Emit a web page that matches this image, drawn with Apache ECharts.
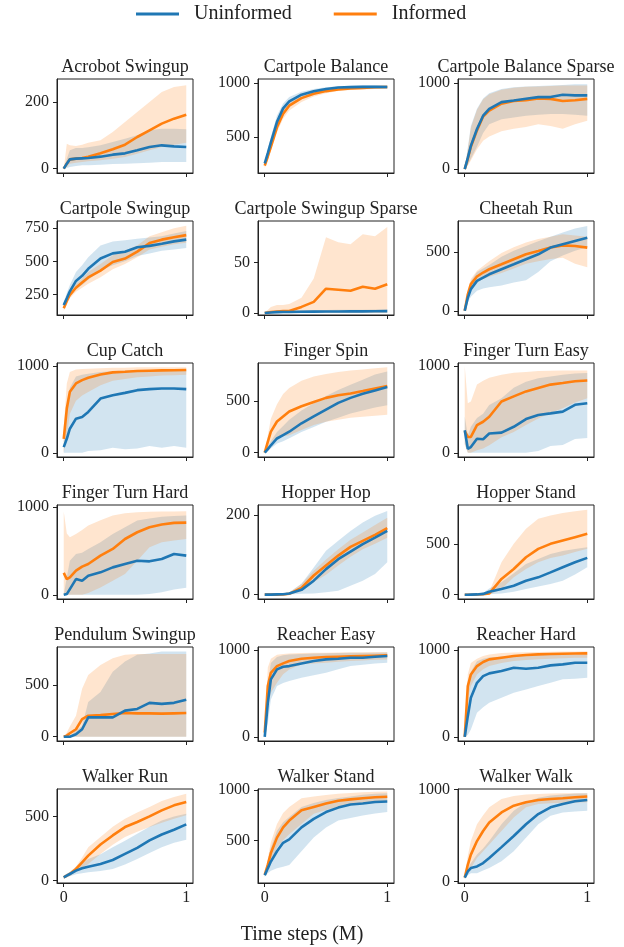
<!DOCTYPE html>
<html>
<head>
<meta charset="utf-8">
<script src="https://cdn.jsdelivr.net/npm/echarts@6/dist/echarts.min.js"></script>
<style>
html, body { margin: 0; padding: 0; background: #fff; }
#chart { width: 624px; height: 947px; }
</style>
</head>
<body>
<div id="chart"></div>
<script>
// time steps (millions), shared by all panels
var steps = [0, 0.025, 0.05, 0.1, 0.15, 0.2, 0.3, 0.4, 0.5, 0.6, 0.7, 0.8, 0.9, 1];

var titles = ['Acrobot Swingup', 'Cartpole Balance', 'Cartpole Balance Sparse',
  'Cartpole Swingup', 'Cartpole Swingup Sparse', 'Cheetah Run',
  'Cup Catch', 'Finger Spin', 'Finger Turn Easy',
  'Finger Turn Hard', 'Hopper Hop', 'Hopper Stand',
  'Pendulum Swingup', 'Reacher Easy', 'Reacher Hard',
  'Walker Run', 'Walker Stand', 'Walker Walk'];

var yTicks = [[0, 200], [500, 1000], [0, 1000],
  [250, 500, 750], [0, 50], [0, 500],
  [0, 1000], [0, 500], [0, 1000],
  [0, 1000], [0, 200], [0, 500],
  [0, 500], [0, 1000], [0, 1000],
  [0, 500], [500, 1000], [0, 1000]];

var yRanges = [[-13, 269], [167, 1037], [-45, 1046],
  [94, 805], [-2, 91], [-36, 763],
  [-48, 1035], [-42, 872], [-48, 1035],
  [-48, 1025], [-11, 225], [-42, 882],
  [-42, 872], [-48, 1035], [-48, 1035],
  [-18, 713], [78, 1008], [-15, 1005]];

// U = uninformed, I = informed; mean, lower and upper edge of the band
var acroU    = [0, 15, 28, 30, 31, 32, 36, 42, 46, 55, 65, 70, 67, 65];
var acroULo  = [0, 2, 5, 8, 10, 10, 12, 14, 15, 16, 18, 20, 20, 20];
var acroUHi  = [0, 30, 55, 62, 62, 64, 70, 80, 90, 100, 115, 120, 120, 118];
var acroI    = [0, 15, 28, 30, 32, 36, 46, 58, 72, 95, 115, 135, 150, 162];
var acroILo  = [0, 5, 15, 18, 20, 22, 25, 30, 35, 45, 55, 65, 72, 78];
var acroIHi  = [0, 75, 70, 68, 72, 78, 85, 110, 140, 170, 200, 230, 245, 250];

var cpBalU   = [255, 350, 450, 640, 765, 830, 892, 923, 944, 958, 962, 964, 965, 963];
var cpBalULo = [240, 310, 400, 590, 720, 790, 865, 905, 930, 945, 950, 952, 950, 945];
var cpBalUHi = [270, 390, 500, 700, 810, 870, 920, 945, 960, 970, 975, 978, 980, 980];
var cpBalI   = [235, 320, 410, 590, 715, 790, 860, 900, 925, 940, 950, 955, 960, 963];
var cpBalILo = [210, 285, 370, 545, 670, 745, 825, 875, 905, 925, 935, 940, 945, 948];
var cpBalIHi = [255, 355, 450, 630, 755, 830, 890, 925, 945, 955, 965, 970, 975, 978];

var cpBalSU   = [0, 130, 270, 465, 620, 700, 778, 797, 817, 836, 836, 864, 856, 856];
var cpBalSULo = [0, 50, 120, 260, 420, 520, 580, 600, 620, 630, 640, 640, 630, 620];
var cpBalSUHi = [0, 250, 500, 700, 820, 880, 930, 950, 960, 965, 970, 975, 985, 985];
var cpBalSI   = [0, 120, 260, 450, 610, 680, 760, 790, 800, 820, 815, 790, 800, 815];
var cpBalSILo = [0, 40, 100, 230, 330, 380, 440, 470, 490, 520, 500, 470, 520, 560];
var cpBalSIHi = [0, 230, 480, 690, 810, 870, 920, 945, 955, 960, 965, 970, 970, 970];

var cpSwU   = [170, 220, 273, 352, 390, 443, 521, 560, 573, 607, 617, 633, 651, 664];
var cpSwULo = [150, 190, 230, 290, 320, 360, 430, 470, 500, 540, 560, 580, 590, 600];
var cpSwUHi = [190, 260, 320, 420, 470, 530, 620, 650, 660, 670, 680, 690, 710, 730];
var cpSwI   = [145, 200, 247, 300, 339, 378, 430, 495, 521, 573, 638, 664, 682, 698];
var cpSwILo = [125, 175, 220, 270, 300, 330, 380, 440, 480, 530, 590, 610, 630, 640];
var cpSwIHi = [165, 225, 275, 330, 370, 420, 480, 545, 580, 620, 690, 720, 750, 770];

var cpSwSU   = [0, 0.3, 0.5, 0.8, 1, 1, 1.2, 1.3, 1.4, 1.5, 1.6, 1.6, 1.7, 1.8];
var cpSwSULo = [0, 0, 0, 0, 0, 0, 0, 0, 0.2, 0.3, 0.3, 0.4, 0.4, 0.4];
var cpSwSUHi = [0.5, 1.5, 2, 2.5, 2.5, 2.8, 3, 3, 3, 3.2, 3.3, 3.3, 3.5, 3.5];
var cpSwSI   = [0, 0.5, 1, 1.5, 1.8, 2, 6, 11, 24, 23, 22, 26, 24, 28.5];
var cpSwSILo = [0, 0, 0, 0, 0, 0, 0, 0, 0, 0, 0, 0, 0, 0];
var cpSwSIHi = [0.5, 3, 6, 8, 8, 9, 15, 34, 75, 70, 68, 78, 76, 85];

var cheetahU   = [0, 110, 184, 254, 282, 310, 353, 395, 438, 480, 537, 565, 593, 621];
var cheetahULo = [0, 70, 120, 170, 190, 200, 215, 240, 260, 330, 420, 470, 510, 540];
var cheetahUHi = [0, 150, 250, 330, 360, 390, 460, 510, 550, 590, 630, 665, 700, 720];
var cheetahI   = [0, 140, 226, 291, 325, 353, 395, 438, 480, 508, 537, 556, 551, 537];
var cheetahILo = [0, 100, 180, 240, 270, 290, 320, 360, 400, 420, 440, 450, 400, 370];
var cheetahIHi = [0, 180, 270, 340, 380, 420, 490, 540, 580, 610, 630, 650, 640, 630];

var cupU   = [66, 162, 278, 394, 413, 471, 625, 664, 691, 722, 734, 741, 741, 734];
var cupULo = [0, 0, 0, 0, 0, 20, 30, 60, 40, 50, 80, 60, 80, 60];
var cupUHi = [200, 500, 750, 880, 900, 910, 930, 940, 945, 950, 950, 955, 955, 955];
var cupI   = [162, 510, 703, 799, 838, 865, 903, 927, 934, 942, 946, 950, 952, 954];
var cupILo = [0, 200, 450, 600, 660, 700, 780, 830, 850, 870, 880, 890, 895, 900];
var cupIHi = [300, 800, 930, 960, 965, 970, 975, 980, 980, 985, 985, 985, 985, 985];

var fSpinU   = [0, 35, 72, 138, 171, 204, 286, 352, 418, 484, 533, 572, 605, 638];
var fSpinULo = [0, 15, 40, 90, 110, 140, 200, 250, 300, 340, 380, 410, 440, 460];
var fSpinUHi = [0, 60, 110, 200, 260, 320, 410, 480, 550, 610, 660, 710, 760, 790];
var fSpinI   = [0, 105, 204, 303, 352, 401, 451, 493, 533, 559, 576, 599, 625, 648];
var fSpinILo = [0, 50, 100, 150, 160, 170, 220, 270, 300, 320, 340, 350, 360, 370];
var fSpinIHi = [0, 170, 330, 470, 570, 630, 700, 740, 765, 785, 800, 810, 820, 830];

var fEasyU   = [260, 47, 66, 163, 156, 222, 233, 300, 389, 436, 455, 475, 553, 572];
var fEasyULo = [100, 0, 0, 0, 0, 0, 0, 0, 0, 20, 80, 90, 160, 170];
var fEasyUHi = [420, 200, 300, 400, 450, 550, 630, 750, 820, 860, 880, 900, 915, 920];
var fEasyI   = [250, 183, 183, 319, 358, 416, 591, 650, 708, 747, 786, 805, 825, 833];
var fEasyILo = [100, 0, 0, 30, 50, 86, 180, 241, 320, 397, 460, 514, 580, 630];
var fEasyIHi = [1000, 570, 591, 786, 830, 864, 900, 922, 932, 942, 945, 948, 950, 950];

var fHardU   = [0, 8, 65, 179, 160, 218, 256, 313, 351, 389, 382, 408, 466, 447];
var fHardULo = [0, 0, 0, 0, 0, 0, 0, 0, 0, 0, 10, 30, 60, 80];
var fHardUHi = [0, 200, 389, 466, 480, 523, 600, 695, 770, 847, 870, 890, 900, 905];
var fHardI   = [250, 179, 198, 275, 321, 351, 447, 523, 637, 714, 771, 802, 821, 824];
var fHardILo = [0, 0, 0, 0, 0, 20, 84, 160, 237, 389, 542, 599, 620, 637];
var fHardIHi = [950, 700, 656, 695, 740, 790, 850, 905, 930, 943, 948, 950, 952, 954];

var hHopU   = [0, 0, 0, 0.5, 1, 3, 12, 35, 64, 89, 108, 127, 143, 160];
var hHopULo = [0, 0, 0, 0, 0, 0, 2, 3, 6, 10, 22, 35, 52, 81];
var hHopUHi = [1, 1, 1.5, 2, 3, 6, 27, 68, 110, 135, 160, 181, 198, 210];
var hHopI   = [0, 0, 0, 0, 0.5, 2, 17, 48, 73, 98, 120, 135, 150, 167];
var hHopILo = [0, 0, 0, 0, 0, 0, 8, 31, 50, 73, 95, 114, 128, 143];
var hHopIHi = [0.5, 0.5, 1, 1, 2, 5, 27, 60, 88, 114, 138, 156, 175, 193];

var hStandU   = [0, 0, 1, 3, 8, 30, 56, 89, 138, 171, 220, 270, 319, 362];
var hStandULo = [0, 0, 0, 0, 0, 5, 13, 30, 56, 80, 105, 138, 200, 270];
var hStandUHi = [3, 3, 4, 8, 18, 60, 122, 210, 303, 350, 401, 430, 450, 467];
var hStandI   = [0, 0, 0, 2, 5, 12, 155, 253, 368, 451, 500, 533, 566, 599];
var hStandILo = [0, 0, 0, 0, 0, 0, 56, 171, 253, 319, 360, 385, 420, 451];
var hStandIHi = [1, 1, 1, 4, 12, 30, 319, 500, 648, 747, 780, 803, 820, 836];

var pendU   = [0, 0, 0, 23, 72, 188, 188, 188, 253, 270, 329, 319, 329, 359];
var pendULo = [0, 0, 0, 0, 0, 0, 0, 0, 0, 0, 0, 0, 0, 0];
var pendUHi = [0, 0, 5, 60, 105, 336, 434, 632, 730, 796, 810, 829, 829, 829];
var pendI   = [0, 10, 33, 72, 171, 204, 210, 220, 230, 227, 227, 224, 227, 230];
var pendILo = [0, 0, 0, 0, 0, 0, 0, 0, 0, 0, 0, 0, 0, 0];
var pendIHi = [0, 40, 100, 204, 467, 599, 697, 763, 796, 803, 803, 803, 803, 803];

var rEasyU   = [0, 392, 662, 777, 808, 815, 846, 873, 892, 900, 912, 912, 923, 931];
var rEasyULo = [0, 150, 431, 585, 620, 642, 681, 710, 738, 780, 815, 830, 845, 854];
var rEasyUHi = [0, 600, 850, 920, 940, 950, 955, 960, 962, 965, 968, 970, 970, 972];
var rEasyI   = [50, 585, 738, 815, 846, 873, 900, 912, 919, 923, 927, 931, 935, 938];
var rEasyILo = [0, 350, 508, 623, 720, 777, 835, 845, 854, 865, 875, 880, 888, 892];
var rEasyIHi = [100, 800, 900, 945, 955, 960, 965, 968, 970, 972, 974, 975, 976, 977];

var rHardU   = [0, 238, 450, 623, 700, 731, 758, 796, 785, 796, 823, 835, 854, 854];
var rHardULo = [0, 20, 85, 277, 340, 392, 450, 508, 546, 585, 623, 662, 670, 681];
var rHardUHi = [0, 500, 750, 870, 900, 915, 925, 935, 935, 940, 945, 950, 950, 950];
var rHardI   = [0, 585, 719, 815, 862, 892, 912, 931, 942, 950, 954, 958, 960, 962];
var rHardILo = [0, 450, 585, 719, 780, 815, 850, 873, 885, 895, 900, 905, 910, 912];
var rHardIHi = [0, 720, 850, 900, 930, 950, 965, 972, 975, 978, 980, 982, 984, 985];

var wRunU   = [26, 40, 52, 78, 96, 109, 130, 161, 208, 255, 313, 359, 396, 438];
var wRunULo = [15, 25, 35, 50, 58, 65, 75, 91, 125, 169, 215, 260, 295, 318];
var wRunUHi = [38, 55, 70, 105, 135, 169, 205, 260, 310, 365, 420, 469, 500, 521];
var wRunI   = [26, 40, 52, 91, 143, 195, 281, 352, 417, 456, 500, 547, 586, 612];
var wRunILo = [15, 28, 40, 70, 100, 130, 208, 280, 339, 380, 417, 450, 482, 508];
var wRunIHi = [38, 52, 65, 110, 180, 260, 339, 420, 482, 530, 573, 620, 651, 677];

var wStandU   = [155, 223, 290, 392, 476, 510, 628, 713, 780, 824, 855, 865, 880, 885];
var wStandULo = [140, 175, 200, 223, 240, 257, 392, 527, 628, 696, 720, 747, 765, 780];
var wStandUHi = [170, 300, 426, 595, 680, 730, 831, 870, 899, 920, 935, 950, 960, 966];
var wStandI   = [160, 257, 375, 527, 628, 696, 797, 831, 865, 892, 905, 916, 926, 932];
var wStandILo = [140, 200, 280, 426, 500, 561, 662, 764, 800, 831, 850, 865, 875, 882];
var wStandIHi = [180, 320, 480, 662, 770, 831, 916, 935, 949, 960, 968, 975, 980, 983];

var wWalkU   = [44, 110, 147, 165, 201, 256, 374, 495, 623, 733, 806, 842, 872, 886];
var wWalkULo = [30, 70, 90, 92, 120, 147, 220, 330, 476, 623, 714, 751, 760, 769];
var wWalkUHi = [60, 150, 200, 293, 360, 440, 623, 769, 861, 910, 934, 945, 955, 960];
var wWalkI   = [44, 183, 293, 440, 549, 641, 751, 824, 861, 886, 897, 905, 916, 923];
var wWalkILo = [30, 100, 147, 256, 330, 403, 549, 696, 806, 842, 850, 855, 858, 861];
var wWalkIHi = [60, 280, 440, 623, 720, 806, 897, 930, 945, 950, 955, 958, 960, 960];

var uninformed = [
  [acroU, acroULo, acroUHi], [cpBalU, cpBalULo, cpBalUHi], [cpBalSU, cpBalSULo, cpBalSUHi],
  [cpSwU, cpSwULo, cpSwUHi], [cpSwSU, cpSwSULo, cpSwSUHi], [cheetahU, cheetahULo, cheetahUHi],
  [cupU, cupULo, cupUHi], [fSpinU, fSpinULo, fSpinUHi], [fEasyU, fEasyULo, fEasyUHi],
  [fHardU, fHardULo, fHardUHi], [hHopU, hHopULo, hHopUHi], [hStandU, hStandULo, hStandUHi],
  [pendU, pendULo, pendUHi], [rEasyU, rEasyULo, rEasyUHi], [rHardU, rHardULo, rHardUHi],
  [wRunU, wRunULo, wRunUHi], [wStandU, wStandULo, wStandUHi], [wWalkU, wWalkULo, wWalkUHi]
];
var informed = [
  [acroI, acroILo, acroIHi], [cpBalI, cpBalILo, cpBalIHi], [cpBalSI, cpBalSILo, cpBalSIHi],
  [cpSwI, cpSwILo, cpSwIHi], [cpSwSI, cpSwSILo, cpSwSIHi], [cheetahI, cheetahILo, cheetahIHi],
  [cupI, cupILo, cupIHi], [fSpinI, fSpinILo, fSpinIHi], [fEasyI, fEasyILo, fEasyIHi],
  [fHardI, fHardILo, fHardIHi], [hHopI, hHopILo, hHopIHi], [hStandI, hStandILo, hStandIHi],
  [pendI, pendILo, pendIHi], [rEasyI, rEasyILo, rEasyIHi], [rHardI, rHardILo, rHardIHi],
  [wRunI, wRunILo, wRunIHi], [wStandI, wStandILo, wStandIHi], [wWalkI, wWalkILo, wWalkIHi]
];

var FONT = '"Liberation Serif", "DejaVu Serif", serif';
var INK = '#222';
var BLUE = '#1f77b4', ORANGE = '#ff7f0e';
var BLUE_FILL = 'rgba(31,119,180,0.2)', ORANGE_FILL = 'rgba(255,127,14,0.2)';
var colLeft = [57, 258, 458];

var grids = [], xAxes = [], yAxes = [], bands = [], lines = [], graphics = [];

function pairs(arr) {
  return steps.map(function (x, k) { return [x, arr[k]]; });
}

function plainNumber(v) { return String(v); }

// the shaded band is one polygon: upper edge forward, lower edge back
function addBand(gi, run, fill) {
  var lo = run[1], hi = run[2];
  bands.push({
    type: 'custom', xAxisIndex: gi, yAxisIndex: gi, silent: true, clip: true,
    data: steps.map(function (x, k) { return [x, lo[k], hi[k]]; }),
    encode: { x: 0, y: [1, 2] },
    renderItem: function (params, api) {
      if (params.dataIndex !== 0) return null;
      var pts = [], k;
      for (k = 0; k < steps.length; k++) pts.push(api.coord([steps[k], hi[k]]));
      for (k = steps.length - 1; k >= 0; k--) pts.push(api.coord([steps[k], lo[k]]));
      return { type: 'polygon', shape: { points: pts }, style: { fill: fill } };
    }
  });
}

function addLine(gi, run, name, color) {
  lines.push({
    type: 'line', name: name, xAxisIndex: gi, yAxisIndex: gi,
    symbol: 'none', z: 3,
    itemStyle: { color: color },
    lineStyle: { width: 2.6, color: color },
    data: pairs(run[0])
  });
}

for (var i = 0; i < titles.length; i++) {
  var row = Math.floor(i / 3), col = i % 3;
  var gridTop = 79 + 142 * row;
  grids.push({ left: colLeft[col], top: gridTop, width: 136, height: 94,
    show: true, borderColor: INK, borderWidth: 1 });
  xAxes.push({
    type: 'value', gridIndex: i, min: -0.055, max: 1.055,
    splitLine: { show: false },
    axisLine: { show: true, onZero: false, lineStyle: { color: INK } },
    axisTick: { show: true, customValues: [0, 1], length: 4, lineStyle: { color: INK } },
    axisLabel: { show: row === 5, customValues: [0, 1], margin: 7, formatter: plainNumber,
      color: INK, fontFamily: FONT, fontSize: 16 }
  });
  yAxes.push({
    type: 'value', gridIndex: i, min: yRanges[i][0], max: yRanges[i][1],
    splitLine: { show: false },
    axisLine: { show: true, onZero: false, lineStyle: { color: INK } },
    axisTick: { show: true, customValues: yTicks[i], length: 4, lineStyle: { color: INK } },
    axisLabel: { customValues: yTicks[i], margin: 8, formatter: plainNumber,
      color: INK, fontFamily: FONT, fontSize: 16 }
  });
  graphics.push({
    type: 'text', x: colLeft[col] + 68, y: gridTop - 12,
    style: { text: titles[i], font: '18px ' + FONT, fill: INK,
      align: 'center', verticalAlign: 'middle' }
  });
  addBand(i, uninformed[i], BLUE_FILL);
  addBand(i, informed[i], ORANGE_FILL);
  addLine(i, informed[i], 'Informed', ORANGE);
  addLine(i, uninformed[i], 'Uninformed', BLUE);
}

graphics.push({
  type: 'text', x: 302, y: 935,
  style: { text: 'Time steps (M)', font: '20px ' + FONT, fill: INK,
    align: 'center', verticalAlign: 'middle' }
});

var chart = echarts.init(document.getElementById('chart'));
chart.setOption({
  animation: false,
  backgroundColor: '#fff',
  legend: {
    data: ['Uninformed', 'Informed'],
    top: 4, left: 136, padding: 0,
    icon: 'rect', itemWidth: 43, itemHeight: 3, itemGap: 42,
    textStyle: { fontFamily: FONT, fontSize: 20, color: INK, padding: [0, 0, 0, 10] }
  },
  grid: grids,
  xAxis: xAxes,
  yAxis: yAxes,
  series: bands.concat(lines),
  graphic: graphics
});
</script>
</body>
</html>
